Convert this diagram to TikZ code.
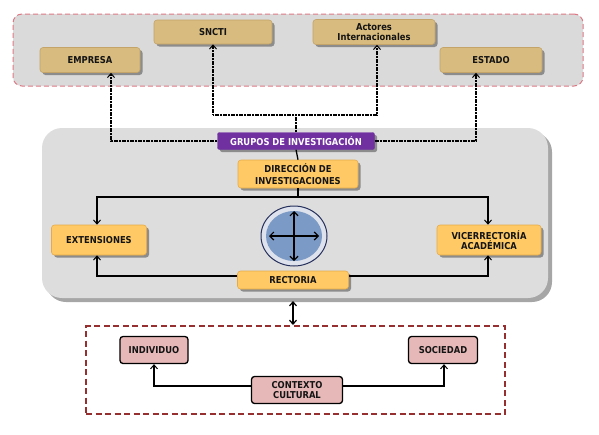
\documentclass[tikz,border=0pt]{standalone}
\usepackage{fontspec}
\setmainfont{DejaVu Sans}[FakeStretch=0.88]
\usetikzlibrary{arrows.meta,shadows,calc,shapes.geometric}
\definecolor{tanf}{RGB}{216,187,126}
\definecolor{tand}{RGB}{196,164,104}
\definecolor{orgf}{RGB}{255,202,102}
\definecolor{orgd}{RGB}{232,170,72}
\definecolor{purp}{RGB}{112,48,160}
\definecolor{pinkf}{RGB}{230,184,183}
\definecolor{topbg}{RGB}{218,218,218}
\definecolor{midbg}{RGB}{221,221,221}
\definecolor{topdash}{RGB}{222,120,132}
\definecolor{botdash}{RGB}{150,48,48}
\definecolor{navy}{RGB}{38,48,92}
\definecolor{ringc}{RGB}{222,226,236}
\definecolor{blueel}{RGB}{124,154,198}
\definecolor{txt}{RGB}{20,20,20}
\tikzset{
  lbl/.style={font=\fontsize{9.5}{10.5}\selectfont\bfseries, text=txt, align=center, inner sep=0pt},
  shad/.style={drop shadow={shadow xshift=2.5pt, shadow yshift=-2.5pt, fill=black!45, opacity=1}},
  tanbox/.style={lbl, shad, fill=tanf, draw=tand, line width=0.6pt, rounded corners=3pt},
  orgbox/.style={lbl, shad, fill=orgf, draw=orgd, line width=0.6pt, rounded corners=3pt},
  purpbox/.style={lbl, shad, fill=purp, draw=purp, text=white, rounded corners=2pt},
  pinkbox/.style={lbl, fill=pinkf, draw=black, line width=1.3pt, rounded corners=3pt},
  tip/.style={-{Straight Barb[length=4pt,width=7pt,line width=1pt]}},
  dotc/.style={tip, line width=1.2pt, dash pattern=on 1.2pt off 0.4pt, draw=black},
  solc/.style={line width=1.3pt, draw=black},
}
\begin{document}
\begin{tikzpicture}[x=1pt,y=-1pt]
\useasboundingbox (0,0) rectangle (599,434);
% containers
\node[draw=topdash, fill=topbg, dashed, dash pattern=on 5pt off 3pt, line width=1pt, rounded corners=9pt,
      minimum width=570pt, minimum height=72pt, inner sep=0pt] (topc) at (298,50) {};
\node[fill=midbg, rounded corners=20pt, minimum width=506pt, minimum height=170pt, inner sep=0pt,
      drop shadow={shadow xshift=4pt, shadow yshift=-4pt, fill=black!35, opacity=1}] (midc) at (295,213) {};
\node[draw=botdash, dashed, dash pattern=on 6pt off 3.5pt, line width=1.2pt,
      minimum width=419pt, minimum height=88pt, inner sep=0pt] (botc) at (295.5,370) {};
% top nodes
\node[tanbox, minimum width=100pt, minimum height=25pt] (empresa) at (90,60) {EMPRESA};
\node[tanbox, minimum width=118pt, minimum height=24pt] (sncti) at (213,32) {SNCTI};
\node[tanbox, minimum width=122pt, minimum height=25pt] (actores) at (374,32) {Actores\\[-1pt]Internacionales};
\node[tanbox, minimum width=102pt, minimum height=25pt] (estado) at (491,60) {ESTADO};
% middle nodes
\node[purpbox, minimum width=157pt, minimum height=17pt] (grupos) at (296,141) {GRUPOS DE INVESTIGACIÓN};
\node[orgbox, minimum width=120pt, minimum height=28pt] (direc) at (298,174) {DIRECCIÓN DE\\[1pt]INVESTIGACIONES};
\node[orgbox, minimum width=95pt, minimum height=30pt] (ext) at (99,240) {EXTENSIONES};
\node[orgbox, minimum width=104pt, minimum height=30pt] (vice) at (489,240) {VICERRECTORÍA\\[0pt]ACADÉMICA};
\node[orgbox, minimum width=111pt, minimum height=18pt] (rect) at (293,280) {RECTORIA};
% ellipse
\node[ellipse, draw=navy, line width=1pt, fill=ringc, minimum width=66pt, minimum height=60pt, inner sep=0pt] (ell) at (294,236) {};
\fill[blueel] (ell.center) ellipse [x radius=28pt, y radius=25pt];
\coordinate (eL) at (269,236); \coordinate (eR) at (319,236);
\coordinate (eT) at (294,211); \coordinate (eB) at (294,261);
\draw[solc, line width=1.2pt, {Straight Barb[length=4pt,width=8pt]}-{Straight Barb[length=4pt,width=8pt]}] (eL) -- (eR);
\draw[solc, line width=1.2pt, {Straight Barb[length=4pt,width=8pt]}-{Straight Barb[length=4pt,width=8pt]}] (eT) -- (eB);
% bottom nodes
\node[pinkbox, minimum width=68pt, minimum height=27pt] (indiv) at (154,350) {INDIVIDUO};
\node[pinkbox, minimum width=69pt, minimum height=27pt] (soc) at (443,350) {SOCIEDAD};
\node[pinkbox, minimum width=91pt, minimum height=27pt] (ctx) at (297,390) {CONTEXTO\\[0pt]CULTURAL};
% top connectors
\coordinate (j) at (296,115);
\draw[dotc] (grupos.west) -| ([xshift=21pt]empresa.south);
\draw[dotc] (grupos.east) -| ([xshift=-15pt]estado.south);
\draw[line width=1.2pt, dash pattern=on 1.2pt off 0.4pt, draw=black] (grupos.north) -- (j);
\draw[dotc] (j) -| (sncti.south);
\draw[dotc] (j) -| ([xshift=3pt]actores.south);
% middle connectors
\coordinate (k) at (298,197);
\draw[solc] (grupos.south) -- (direc.north);
\draw[solc] (direc.south) -- (k);
\draw[solc, tip] (k) -| ([xshift=-2pt]ext.north);
\draw[solc, tip] (k) -| ([xshift=-1pt]vice.north);
\draw[solc, tip] ([yshift=4pt]rect.west) -| ([xshift=-2pt]ext.south);
\draw[solc, tip] ([yshift=4pt]rect.east) -| ([xshift=-1pt]vice.south);
% between containers
\coordinate (d1) at (293,301);
\coordinate (d2) at (293,325);
\draw[line width=1.2pt, {Straight Barb[length=4pt,width=7pt]}-{Straight Barb[length=4pt,width=7pt]}] (d1) -- (d2);
% bottom connectors
\draw[solc, tip] ([yshift=4pt]ctx.west) -| (indiv.south);
\draw[solc, tip] ([yshift=4pt]ctx.east) -| ([xshift=1pt]soc.south);
\end{tikzpicture}
\end{document}
